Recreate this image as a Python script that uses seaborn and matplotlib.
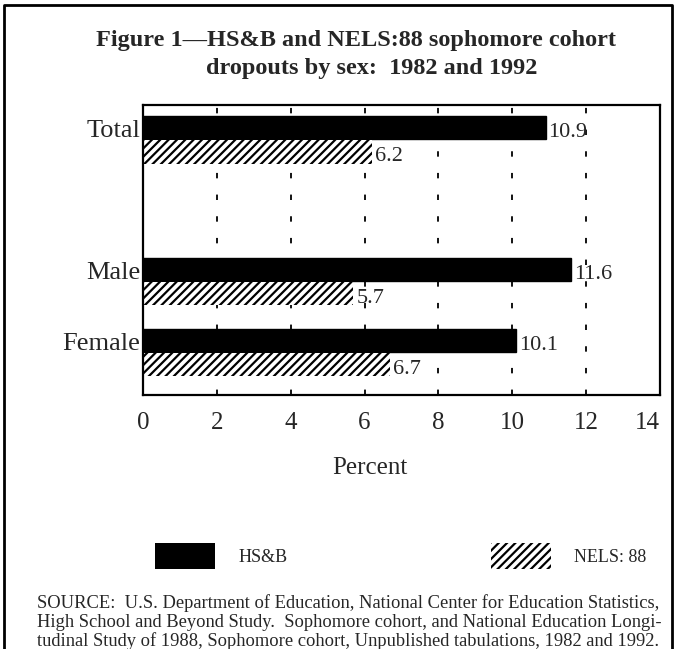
import pandas as pd
import numpy as np
import matplotlib.pyplot as plt
import seaborn as sns
from matplotlib.lines import Line2D

# Figure 1 -- HS&B and NELS:88 sophomore cohort dropouts by sex
groups = ['Total', '', 'Male', 'Female']   # blank slot leaves the gap under Total
shown = ['Total', 'Male', 'Female']
surveys = ['HS&B', 'NELS: 88']
hsb = [10.9, 11.6, 10.1]
nels = [6.2, 5.7, 6.7]
xticks = [0, 2, 4, 6, 8, 10, 12, 14]

df = pd.DataFrame({
    'group': shown * 2,
    'survey': [surveys[0]] * 3 + [surveys[1]] * 3,
    'percent': hsb + nels,
})

sns.set_style('white')
plt.rcParams['font.family'] = ['Liberation Serif', 'DejaVu Serif']
plt.rcParams['hatch.linewidth'] = 1.6

fig = plt.figure(figsize=(6.77, 6.49), dpi=100)
ax = fig.add_axes([143/677, 1-395/649, 517/677, 290/649])

sns.barplot(data=df, y='group', x='percent', hue='survey', order=groups,
            hue_order=surveys, palette=['black', 'white'], saturation=1,
            width=0.68, gap=0.04, edgecolor='black', linewidth=1,
            orient='h', errorbar=None, legend=False, ax=ax)

# NELS bars: white with diagonal hatching, no outline
for bar in ax.containers[1]:
    bar.set_facecolor('white')
    bar.set_hatch('////')
    bar.set_linewidth(0)

# value labels
for cont in ax.containers:
    for bar in cont:
        w = bar.get_width()
        ax.text(w + 0.08, bar.get_y() + bar.get_height()/2 + 0.07, f'{w:.1f}',
                ha='left', va='center', fontsize=16)

ax.set_xlim(0, 14)
ax.set_ylim(3.6, -0.493)
ax.set_xticks(xticks)
ax.set_xticklabels([str(t) for t in xticks])
ax.get_xticklabels()[-1].set_ha('right')
ax.set_yticks([groups.index(g) - 0.16 for g in shown])
ax.set_yticklabels(shown)
ax.tick_params(axis='x', length=0, pad=12, labelsize=18)
ax.tick_params(axis='y', length=0, pad=2, labelsize=19)
ax.set_xlabel('')
ax.set_ylabel('')
ax.grid(axis='x', color='black', ls=(0, (3, 9)), lw=1.3)
ax.grid(axis='y', visible=False)
ax.set_axisbelow(True)
for s in ax.spines.values():
    s.set_visible(True)
    s.set_color('black')
    s.set_linewidth(1.6)

fig.text(370/677, 1-474/649, 'Percent', ha='center', va='baseline', fontsize=18)

fig.text(356/677, 1-46/649, 'Figure 1\u2014HS&B and NELS:88 sophomore cohort',
         ha='center', va='baseline', fontsize=17.5, fontweight='bold')
fig.text(372/677, 1-74/649, 'dropouts by sex:  1982 and 1992',
         ha='center', va='baseline', fontsize=17.5, fontweight='bold')

leg = fig.legend([ax.containers[0][0], ax.containers[1][0]], surveys,
                 loc='center left', bbox_to_anchor=(155/677, 1-556/649),
                 ncol=2, frameon=False, fontsize=13, handlelength=3.3,
                 handleheight=1.83, handletextpad=1.3, columnspacing=11.3,
                 borderpad=0, borderaxespad=0)
for h in leg.legend_handles:
    h.set_linewidth(0)

src = ['SOURCE:  U.S. Department of Education, National Center for Education Statistics,',
       'High School and Beyond Study.  Sophomore cohort, and National Education Longi-',
       'tudinal Study of 1988, Sophomore cohort, Unpublished tabulations, 1982 and 1992.']
for i, line in enumerate(src):
    fig.text(37/677, 1-(608 + 19*i)/649, line, ha='left', va='baseline', fontsize=13.3)

# outer frame of the page figure
fig.add_artist(Line2D([4/677, 4/677, 672/677, 672/677], [0, 1-5/649, 1-5/649, 0],
                      color='black', lw=2, transform=fig.transFigure))

fig.savefig('out.png', dpi=100)
